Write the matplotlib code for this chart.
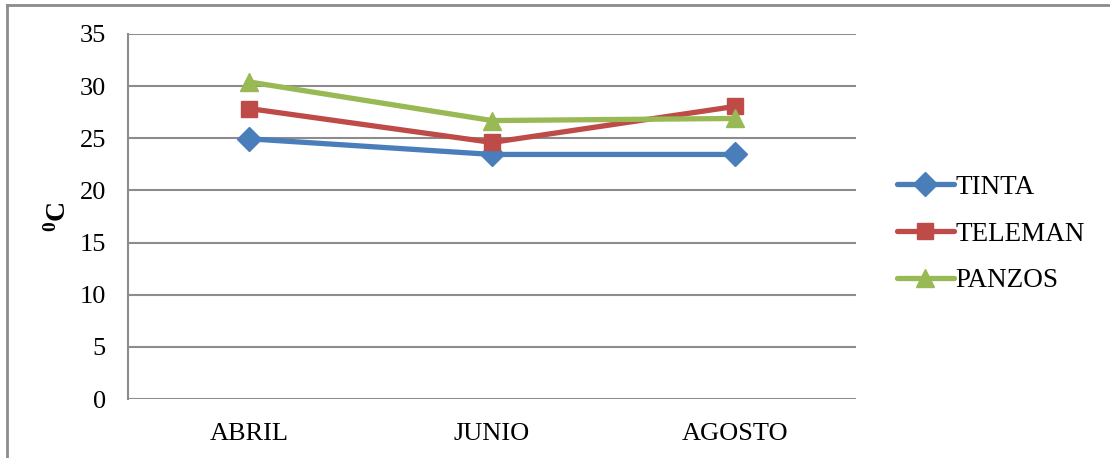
import matplotlib
matplotlib.use("Agg")
import matplotlib.pyplot as plt
from matplotlib.lines import Line2D

# Monthly mean temperatures (°C) per station
months = ["ABRIL", "JUNIO", "AGOSTO"]
tinta = [24.95, 23.45, 23.45]
teleman = [27.85, 24.6, 28.05]
panzos = [30.4, 26.7, 26.9]
y_ticks = [0, 5, 10, 15, 20, 25, 30, 35]

plt.rcParams["font.family"] = ["Liberation Serif", "DejaVu Serif"]
plt.rcParams["mathtext.fontset"] = "custom"
plt.rcParams["mathtext.rm"] = "Liberation Serif"
plt.rcParams["mathtext.bf"] = "Liberation Serif:bold"

W, H = 1110, 458
fig = plt.figure(figsize=(W / 100, H / 100), dpi=100)
ax = fig.add_axes([128 / W, 1 - 399 / H, (856 - 128) / W, (399 - 34) / H])

# Chart frame: top and left edges only
border = dict(transform=fig.transFigure, color="#8c8c8c", linewidth=2)
fig.lines.append(Line2D([7 / W, 1.0], [1 - 5 / H, 1 - 5 / H], **border))
fig.lines.append(Line2D([7 / W, 7 / W], [0.0, 1 - 5 / H], **border))

x = range(len(months))
series = [
    ("TINTA", tinta, "#4a7ebb", "D", 12),
    ("TELEMAN", teleman, "#be4b48", "s", 11),
    ("PANZOS", panzos, "#98b954", "^", 13),
]
for name, vals, color, marker, ms in series:
    ax.plot(x, vals, color=color, linewidth=3.8, marker=marker, markersize=ms,
            markeredgecolor=color, markerfacecolor=color, label=name,
            solid_capstyle="round")

ax.set_xlim(-0.5, len(months) - 0.5)
ax.set_ylim(0, 35)
ax.set_yticks(y_ticks)
ax.set_xticks(list(x))
ax.set_xticklabels(months)
ax.yaxis.grid(True, color="#8c8c8c", linewidth=1.5)
ax.set_axisbelow(True)
ax.tick_params(axis="both", length=0, labelsize=19, colors="black")
ax.tick_params(axis="y", pad=16)
ax.tick_params(axis="x", pad=17)
for side in ["top", "right", "bottom"]:
    ax.spines[side].set_visible(False)
ax.spines["left"].set_color("#8c8c8c")
ax.spines["left"].set_linewidth(1.5)

fig.text(58 / W, 1 - 217 / H, r"$\mathbf{^{0}C}$", rotation=90,
         fontsize=20, ha="center", va="center")

fig.legend(loc="center left", bbox_to_anchor=(886 / W, 1 - 234 / H),
           frameon=False, fontsize=19.5, handlelength=2.1, handletextpad=0.05,
           labelspacing=0.8, borderaxespad=0)

fig.savefig("out.png", dpi=100)
